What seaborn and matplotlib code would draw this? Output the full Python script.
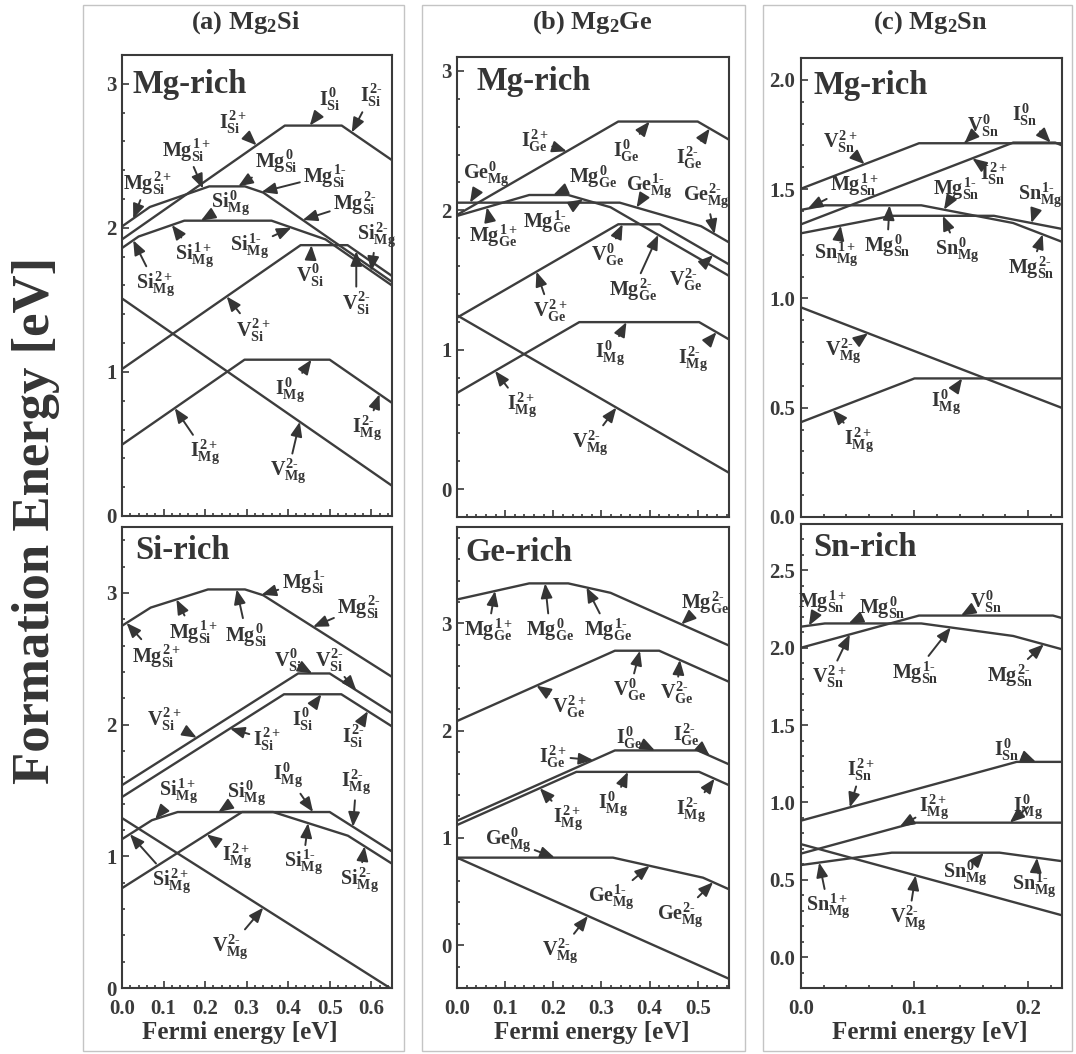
import numpy as np
import pandas as pd
import matplotlib
matplotlib.use("Agg")
import matplotlib.pyplot as plt
import seaborn as sns
from matplotlib.patches import Rectangle
from matplotlib.ticker import MultipleLocator, FormatStrFormatter

# ---------------------------------------------------------------------------
# Formation energies (eV) of native defects versus Fermi energy (eV).
# Each defect is a piecewise-linear curve: (Fermi energies, formation energies)
# ---------------------------------------------------------------------------

# Mg2Si, Mg-rich
mg2si_mg_rich = {
    "I_Si":  ([0.0, 0.392, 0.529, 0.65], [1.92, 2.71, 2.71, 2.47]),
    "Mg_Si": ([0.0, 0.067, 0.21, 0.296, 0.34, 0.65], [2.01, 2.145, 2.288, 2.288, 2.245, 1.625]),
    "Si_Mg": ([0.0, 0.04, 0.15, 0.36, 0.49, 0.65], [1.86, 1.94, 2.05, 2.05, 1.92, 1.60]),
    "V_Si":  ([0.0, 0.43, 0.543, 0.65], [1.02, 1.88, 1.88, 1.666]),
    "V_Mg":  ([0.0, 0.65], [1.51, 0.21]),
    "I_Mg":  ([0.0, 0.295, 0.50, 0.65], [0.495, 1.085, 1.085, 0.785]),
}

# Mg2Si, Si-rich
mg2si_si_rich = {
    "Mg_Si": ([0.0, 0.069, 0.207, 0.296, 0.34, 0.65], [2.75, 2.888, 3.026, 3.026, 2.982, 2.362]),
    "V_Si":  ([0.0, 0.424, 0.50, 0.65], [1.54, 2.388, 2.388, 2.088]),
    "I_Si":  ([0.0, 0.39, 0.528, 0.65], [1.45, 2.23, 2.23, 1.986]),
    "Si_Mg": ([0.0, 0.072, 0.134, 0.364, 0.544, 0.65], [1.13, 1.274, 1.336, 1.336, 1.156, 0.944]),
    "I_Mg":  ([0.0, 0.289, 0.50, 0.65], [0.758, 1.336, 1.336, 1.036]),
    "V_Mg":  ([0.0, 0.65], [1.29, -0.01]),
}

# Mg2Ge, Mg-rich
mg2ge_mg_rich = {
    "I_Ge":  ([0.0, 0.335, 0.50, 0.565], [1.967, 2.637, 2.637, 2.507]),
    "Mg_Ge": ([0.0, 0.15, 0.231, 0.319, 0.565], [1.96, 2.11, 2.11, 2.022, 1.53]),
    "Ge_Mg": ([0.0, 0.338, 0.507, 0.565], [2.055, 2.055, 1.886, 1.77]),
    "V_Ge":  ([0.0, 0.335, 0.421, 0.565], [1.23, 1.90, 1.90, 1.612]),
    "V_Mg":  ([0.0, 0.565], [1.247, 0.117]),
    "I_Mg":  ([0.0, 0.254, 0.503, 0.565], [0.69, 1.198, 1.198, 1.074]),
}

# Mg2Ge, Ge-rich
mg2ge_ge_rich = {
    "Mg_Ge": ([0.0, 0.15, 0.231, 0.319, 0.565], [3.224, 3.374, 3.374, 3.286, 2.794]),
    "V_Ge":  ([0.0, 0.328, 0.42, 0.565], [2.09, 2.746, 2.746, 2.456]),
    "I_Ge":  ([0.0, 0.328, 0.50, 0.565], [1.16, 1.816, 1.816, 1.686]),
    "I_Mg":  ([0.0, 0.248, 0.503, 0.565], [1.12, 1.616, 1.616, 1.492]),
    "Ge_Mg": ([0.0, 0.324, 0.511, 0.565], [0.816, 0.816, 0.629, 0.521]),
    "V_Mg":  ([0.0, 0.565], [0.816, -0.314]),
}

# Mg2Sn, Mg-rich
mg2sn_mg_rich = {
    "V_Sn":  ([0.0, 0.104, 0.23], [1.502, 1.71, 1.71]),
    "I_Sn":  ([0.0, 0.187, 0.224, 0.23], [1.339, 1.713, 1.713, 1.70]),
    "Mg_Sn": ([0.0, 0.021, 0.106, 0.187, 0.23], [1.405, 1.426, 1.426, 1.345, 1.259]),
    "Sn_Mg": ([0.0, 0.08, 0.17, 0.23], [1.298, 1.378, 1.378, 1.318]),
    "V_Mg":  ([0.0, 0.23], [0.959, 0.499]),
    "I_Mg":  ([0.0, 0.10, 0.23], [0.434, 0.634, 0.634]),
}

# Mg2Sn, Sn-rich
mg2sn_sn_rich = {
    "V_Sn":  ([0.0, 0.104, 0.222, 0.23], [2.0, 2.208, 2.208, 2.192]),
    "Mg_Sn": ([0.0, 0.021, 0.106, 0.187, 0.23], [2.136, 2.157, 2.157, 2.076, 1.99]),
    "I_Sn":  ([0.0, 0.19, 0.23], [0.882, 1.262, 1.262]),
    "I_Mg":  ([0.0, 0.10, 0.23], [0.669, 0.869, 0.869]),
    "Sn_Mg": ([0.0, 0.08, 0.175, 0.23], [0.595, 0.675, 0.675, 0.62]),
    "V_Mg":  ([0.0, 0.23], [0.73, 0.27]),
}

# Charge-state labels: (species, site, charge, curve, Fermi energy of arrow tip)
labels_a_mg = [
    ("I", "Si", "0", "I_Si", 0.452), ("I", "Si", "2-", "I_Si", 0.553),
    ("I", "Si", "2+", "I_Si", 0.324), ("Mg", "Si", "1+", "Mg_Si", 0.195),
    ("Mg", "Si", "0", "Mg_Si", 0.28), ("Mg", "Si", "1-", "Mg_Si", 0.336),
    ("Mg", "Si", "2+", "Mg_Si", 0.027), ("Si", "Mg", "0", "Si_Mg", 0.19),
    ("Mg", "Si", "2-", "Mg_Si", 0.435), ("Si", "Mg", "1+", "Si_Mg", 0.12),
    ("Si", "Mg", "1-", "Si_Mg", 0.408), ("Si", "Mg", "2-", "Si_Mg", 0.60),
    ("Si", "Mg", "2+", "Si_Mg", 0.027), ("V", "Si", "0", "V_Si", 0.456),
    ("V", "Si", "2-", "V_Si", 0.564), ("V", "Si", "2+", "V_Si", 0.252),
    ("I", "Mg", "0", "I_Mg", 0.456), ("I", "Mg", "2-", "I_Mg", 0.62),
    ("I", "Mg", "2+", "I_Mg", 0.127), ("V", "Mg", "2-", "V_Mg", 0.428),
]
labels_a_si = [
    ("Mg", "Si", "1-", "Mg_Si", 0.336), ("Mg", "Si", "2-", "Mg_Si", 0.46),
    ("Mg", "Si", "1+", "Mg_Si", 0.131), ("Mg", "Si", "0", "Mg_Si", 0.276),
    ("Mg", "Si", "2+", "Mg_Si", 0.011), ("V", "Si", "0", "V_Si", 0.458),
    ("V", "Si", "2-", "V_Si", 0.564), ("V", "Si", "2+", "V_Si", 0.18),
    ("I", "Si", "2+", "I_Si", 0.26), ("I", "Si", "0", "I_Si", 0.48),
    ("I", "Si", "2-", "I_Si", 0.592), ("Si", "Mg", "1+", "Si_Mg", 0.08),
    ("Si", "Mg", "0", "Si_Mg", 0.232), ("I", "Mg", "0", "I_Mg", 0.46),
    ("I", "Mg", "2-", "I_Mg", 0.556), ("I", "Mg", "2+", "I_Mg", 0.204),
    ("Si", "Mg", "1-", "Si_Mg", 0.448), ("Si", "Mg", "2-", "Si_Mg", 0.584),
    ("Si", "Mg", "2+", "Si_Mg", 0.019), ("V", "Mg", "2-", "V_Mg", 0.34),
]
labels_b_mg = [
    ("I", "Ge", "2+", "I_Ge", 0.228), ("I", "Ge", "0", "I_Ge", 0.40),
    ("I", "Ge", "2-", "I_Ge", 0.525), ("Ge", "Mg", "0", "Ge_Mg", 0.027),
    ("Mg", "Ge", "0", "Mg_Ge", 0.20), ("Ge", "Mg", "1-", "Ge_Mg", 0.373),
    ("Ge", "Mg", "2-", "Ge_Mg", 0.535), ("Mg", "Ge", "1+", "Mg_Ge", 0.062),
    ("Mg", "Ge", "1-", "Mg_Ge", 0.262), ("V", "Ge", "0", "V_Ge", 0.344),
    ("Mg", "Ge", "2-", "Mg_Ge", 0.418), ("V", "Ge", "2-", "V_Ge", 0.532),
    ("V", "Ge", "2+", "V_Ge", 0.165), ("I", "Mg", "0", "I_Mg", 0.352),
    ("I", "Mg", "2-", "I_Mg", 0.539), ("I", "Mg", "2+", "I_Mg", 0.079),
    ("V", "Mg", "2-", "V_Mg", 0.331),
]
labels_b_ge = [
    ("Mg", "Ge", "1+", "Mg_Ge", 0.079), ("Mg", "Ge", "0", "Mg_Ge", 0.183),
    ("Mg", "Ge", "1-", "Mg_Ge", 0.269), ("Mg", "Ge", "2-", "Mg_Ge", 0.466),
    ("V", "Ge", "0", "V_Ge", 0.38), ("V", "Ge", "2-", "V_Ge", 0.463),
    ("V", "Ge", "2+", "V_Ge", 0.165), ("I", "Ge", "0", "I_Ge", 0.411),
    ("I", "Ge", "2-", "I_Ge", 0.525), ("I", "Ge", "2+", "I_Ge", 0.283),
    ("I", "Mg", "0", "I_Mg", 0.355), ("I", "Mg", "2-", "I_Mg", 0.535),
    ("I", "Mg", "2+", "I_Mg", 0.172), ("Ge", "Mg", "0", "Ge_Mg", 0.203),
    ("Ge", "Mg", "1-", "Ge_Mg", 0.40), ("Ge", "Mg", "2-", "Ge_Mg", 0.532),
    ("V", "Mg", "2-", "V_Mg", 0.272),
]
labels_c_mg = [
    ("V", "Sn", "0", "V_Sn", 0.144), ("I", "Sn", "0", "I_Sn", 0.22),
    ("V", "Sn", "2+", "V_Sn", 0.056), ("I", "Sn", "2+", "I_Sn", 0.151),
    ("Mg", "Sn", "1+", "Mg_Sn", 0.006), ("Mg", "Sn", "1-", "Mg_Sn", 0.126),
    ("Sn", "Mg", "1-", "Sn_Mg", 0.203), ("Mg", "Sn", "0", "Mg_Sn", 0.078),
    ("Sn", "Mg", "0", "Sn_Mg", 0.125), ("Sn", "Mg", "1+", "Sn_Mg", 0.035),
    ("Mg", "Sn", "2-", "Mg_Sn", 0.213), ("V", "Mg", "2-", "V_Mg", 0.059),
    ("I", "Mg", "0", "I_Mg", 0.142), ("I", "Mg", "2+", "I_Mg", 0.028),
]
labels_c_sn = [
    ("Mg", "Sn", "1+", "Mg_Sn", 0.007), ("Mg", "Sn", "0", "Mg_Sn", 0.042),
    ("V", "Sn", "0", "V_Sn", 0.141), ("V", "Sn", "2+", "V_Sn", 0.043),
    ("Mg", "Sn", "1-", "Mg_Sn", 0.132), ("Mg", "Sn", "2-", "Mg_Sn", 0.214),
    ("I", "Sn", "0", "I_Sn", 0.207), ("I", "Sn", "2+", "I_Sn", 0.043),
    ("I", "Mg", "2+", "I_Mg", 0.087), ("I", "Mg", "0", "I_Mg", 0.184),
    ("Sn", "Mg", "0", "Sn_Mg", 0.161), ("Sn", "Mg", "1-", "Sn_Mg", 0.208),
    ("Sn", "Mg", "1+", "Sn_Mg", 0.016), ("V", "Mg", "2-", "V_Mg", 0.101),
]

# Label placement (Fermi energy, formation energy of the text centre)
place_a_mg = [(0.50, 2.89), (0.60, 2.92), (0.267, 2.73), (0.155, 2.54), (0.372, 2.46),
              (0.488, 2.36), (0.06, 2.31), (0.26, 2.17), (0.56, 2.17), (0.175, 1.81),
              (0.308, 1.87), (0.612, 1.95), (0.08, 1.61), (0.452, 1.67), (0.564, 1.475),
              (0.316, 1.29), (0.404, 0.87), (0.59, 0.61), (0.20, 0.44), (0.40, 0.31)]
place_a_si = [(0.436, 3.08), (0.57, 2.89), (0.171, 2.70), (0.30, 2.68), (0.083, 2.52),
              (0.40, 2.49), (0.50, 2.49), (0.103, 2.04), (0.348, 1.89), (0.436, 2.04),
              (0.556, 1.91), (0.135, 1.49), (0.30, 1.48), (0.40, 1.61), (0.564, 1.56),
              (0.276, 1.0), (0.436, 0.95), (0.572, 0.82), (0.12, 0.81), (0.26, 0.31)]
place_b_mg = [(0.162, 2.50), (0.352, 2.43), (0.483, 2.38), (0.062, 2.26), (0.283, 2.24),
              (0.40, 2.17), (0.518, 2.10), (0.075, 1.82), (0.186, 1.92), (0.314, 1.68),
              (0.366, 1.43), (0.476, 1.50), (0.193, 1.28), (0.317, 0.97), (0.49, 0.93),
              (0.134, 0.60), (0.276, 0.33)]
place_b_ge = [(0.065, 2.94), (0.193, 2.94), (0.314, 2.94), (0.515, 3.19), (0.359, 2.38),
              (0.456, 2.35), (0.234, 2.22), (0.359, 1.93), (0.476, 1.96), (0.20, 1.76),
              (0.324, 1.31), (0.487, 1.26), (0.231, 1.18), (0.106, 0.98), (0.321, 0.44),
              (0.463, 0.28), (0.214, -0.06)]
place_c_mg = [(0.16, 1.79), (0.197, 1.84), (0.035, 1.715), (0.17, 1.57), (0.047, 1.52),
              (0.137, 1.50), (0.211, 1.47), (0.076, 1.24), (0.138, 1.22), (0.031, 1.20),
              (0.203, 1.14), (0.037, 0.755), (0.128, 0.526), (0.051, 0.35)]
place_c_sn = [(0.019, 2.30), (0.072, 2.26), (0.163, 2.30), (0.025, 1.81), (0.101, 1.84),
              (0.184, 1.82), (0.181, 1.34), (0.053, 1.21), (0.117, 0.97), (0.20, 0.97),
              (0.145, 0.54), (0.206, 0.465), (0.024, 0.325), (0.095, 0.25)]

# ---------------------------------------------------------------------------
sns.set_theme(style="ticks")
plt.rcParams.update({
    "font.family": ["Liberation Serif", "DejaVu Serif"],
    "font.weight": "bold",
    "mathtext.fontset": "custom",
    "mathtext.rm": "Liberation Serif:bold",
    "mathtext.it": "Liberation Serif:bold",
    "mathtext.bf": "Liberation Serif:bold",
    "axes.linewidth": 1.5,
    "axes.edgecolor": "#3a3a3a",
    "text.color": "#333333",
    "xtick.color": "#3a3a3a",
    "ytick.color": "#3a3a3a",
})

LINE = "#3d3d3d"
TXT = "#353535"
W, H = 1076, 1054
fig = plt.figure(figsize=(W / 100, H / 100), dpi=100)
fig.patch.set_facecolor("white")


def rect(l, r, t, b):
    return [l / W, 1 - b / H, (r - l) / W, (b - t) / H]


def tag(base, site, charge):
    # short hyphen for negative charge states
    charge = charge.replace("-", "\u2010")
    return rf"${base}^{{{charge}}}_{{{site}}}$"


def draw_panel(box, curves, labels, places, xmax, ylim, ymajor, yminor, yfmt,
               regime, regime_xy, show_x):
    ax = fig.add_axes(rect(*box))
    rows = [(name, x, y) for name, (xs, ys) in curves.items() for x, y in zip(xs, ys)]
    df = pd.DataFrame(rows, columns=["defect", "fermi", "energy"])
    sns.lineplot(data=df, x="fermi", y="energy", units="defect", estimator=None,
                 sort=False, color=LINE, lw=1.7, ax=ax, legend=False)
    ax.set_xlim(0, xmax)
    ax.set_ylim(*ylim)
    ax.set_xlabel("")
    ax.set_ylabel("")
    ax.xaxis.set_major_locator(MultipleLocator(0.1))
    ax.xaxis.set_minor_locator(MultipleLocator(0.02))
    ax.xaxis.set_major_formatter(FormatStrFormatter("%.1f"))
    ax.yaxis.set_major_locator(MultipleLocator(ymajor))
    ax.yaxis.set_minor_locator(MultipleLocator(yminor))
    ax.yaxis.set_major_formatter(FormatStrFormatter(yfmt))
    ax.tick_params(which="both", direction="in", top=False, right=False,
                   labelsize=15, width=1.2)
    ax.tick_params(axis="y", pad=4)
    ax.tick_params(axis="x", pad=8)
    ax.tick_params(which="major", length=5)
    ax.tick_params(which="minor", length=2.5)
    if not show_x:
        ax.tick_params(axis="x", labelbottom=False)
    for s in ax.spines.values():
        s.set_visible(True)
    ax.text(regime_xy[0], regime_xy[1], regime, transform=ax.transAxes,
            ha="left", va="center", fontsize=23.5, fontweight="bold", color=TXT)
    for (base, site, charge, key, tx), (lx, ly) in zip(labels, places):
        xs, ys = curves[key]
        ty = float(np.interp(tx, xs, ys))
        ax.annotate(tag(base, site, charge), xy=(tx, ty), xytext=(lx, ly),
                    ha="center", va="center", fontsize=14.5, color=TXT,
                    annotation_clip=False,
                    arrowprops=dict(arrowstyle="-|>,head_length=0.6,head_width=0.24",
                                    color=TXT, lw=1.4, shrinkA=0, shrinkB=0))
    return ax


# column frames
for x0, x1 in [(83, 404), (422, 745), (763, 1072)]:
    fig.add_artist(Rectangle((x0 / W, 1 - 1051 / H), (x1 - x0) / W, 1046 / H,
                             transform=fig.transFigure, fill=False,
                             ec="#c4c4c4", lw=1.0))

draw_panel((122, 392, 55, 516), mg2si_mg_rich, labels_a_mg, place_a_mg, 0.65,
           (0, 3.2), 1, 0.2, "%d", "Mg-rich", (0.04, 0.935), False)
draw_panel((122, 392, 527, 988), mg2si_si_rich, labels_a_si, place_a_si, 0.65,
           (0, 3.5), 1, 0.2, "%d", "Si-rich", (0.048, 0.948), True)
draw_panel((457, 729, 57, 517), mg2ge_mg_rich, labels_b_mg, place_b_mg, 0.565,
           (-0.2, 3.1), 1, 0.2, "%d", "Mg-rich", (0.07, 0.946), False)
draw_panel((457, 729, 527, 988), mg2ge_ge_rich, labels_b_ge, place_b_ge, 0.565,
           (-0.4, 3.9), 1, 0.2, "%d", "Ge-rich", (0.03, 0.944), True)
draw_panel((801, 1062, 58, 517), mg2sn_mg_rich, labels_c_mg, place_c_mg, 0.23,
           (0, 2.1), 0.5, 0.1, "%.1f", "Mg-rich", (0.046, 0.94), False)
draw_panel((801, 1062, 524, 988), mg2sn_sn_rich, labels_c_sn, place_c_sn, 0.23,
           (-0.2, 2.8), 0.5, 0.1, "%.1f", "Sn-rich", (0.046, 0.95), True)

# column titles
for cx, title in [(246, r"(a) Mg$_2$Si"), (592, r"(b) Mg$_2$Ge"), (930, r"(c) Mg$_2$Sn")]:
    fig.text(cx / W, 1 - 23 / H, title, ha="center", va="center",
             fontsize=19, fontweight="bold", color=TXT)

# axis titles
fig.text(36 / W, 1 - 520 / H, "Formation Energy [eV]", rotation=90,
         ha="center", va="center", fontsize=38, fontweight="bold", color=TXT)
for cx in (240, 592, 930):
    fig.text(cx / W, 1 - 1032 / H, "Fermi energy [eV]", ha="center", va="center",
             fontsize=18, fontweight="bold", color=TXT)

fig.savefig("out.png", dpi=100, facecolor="white")
